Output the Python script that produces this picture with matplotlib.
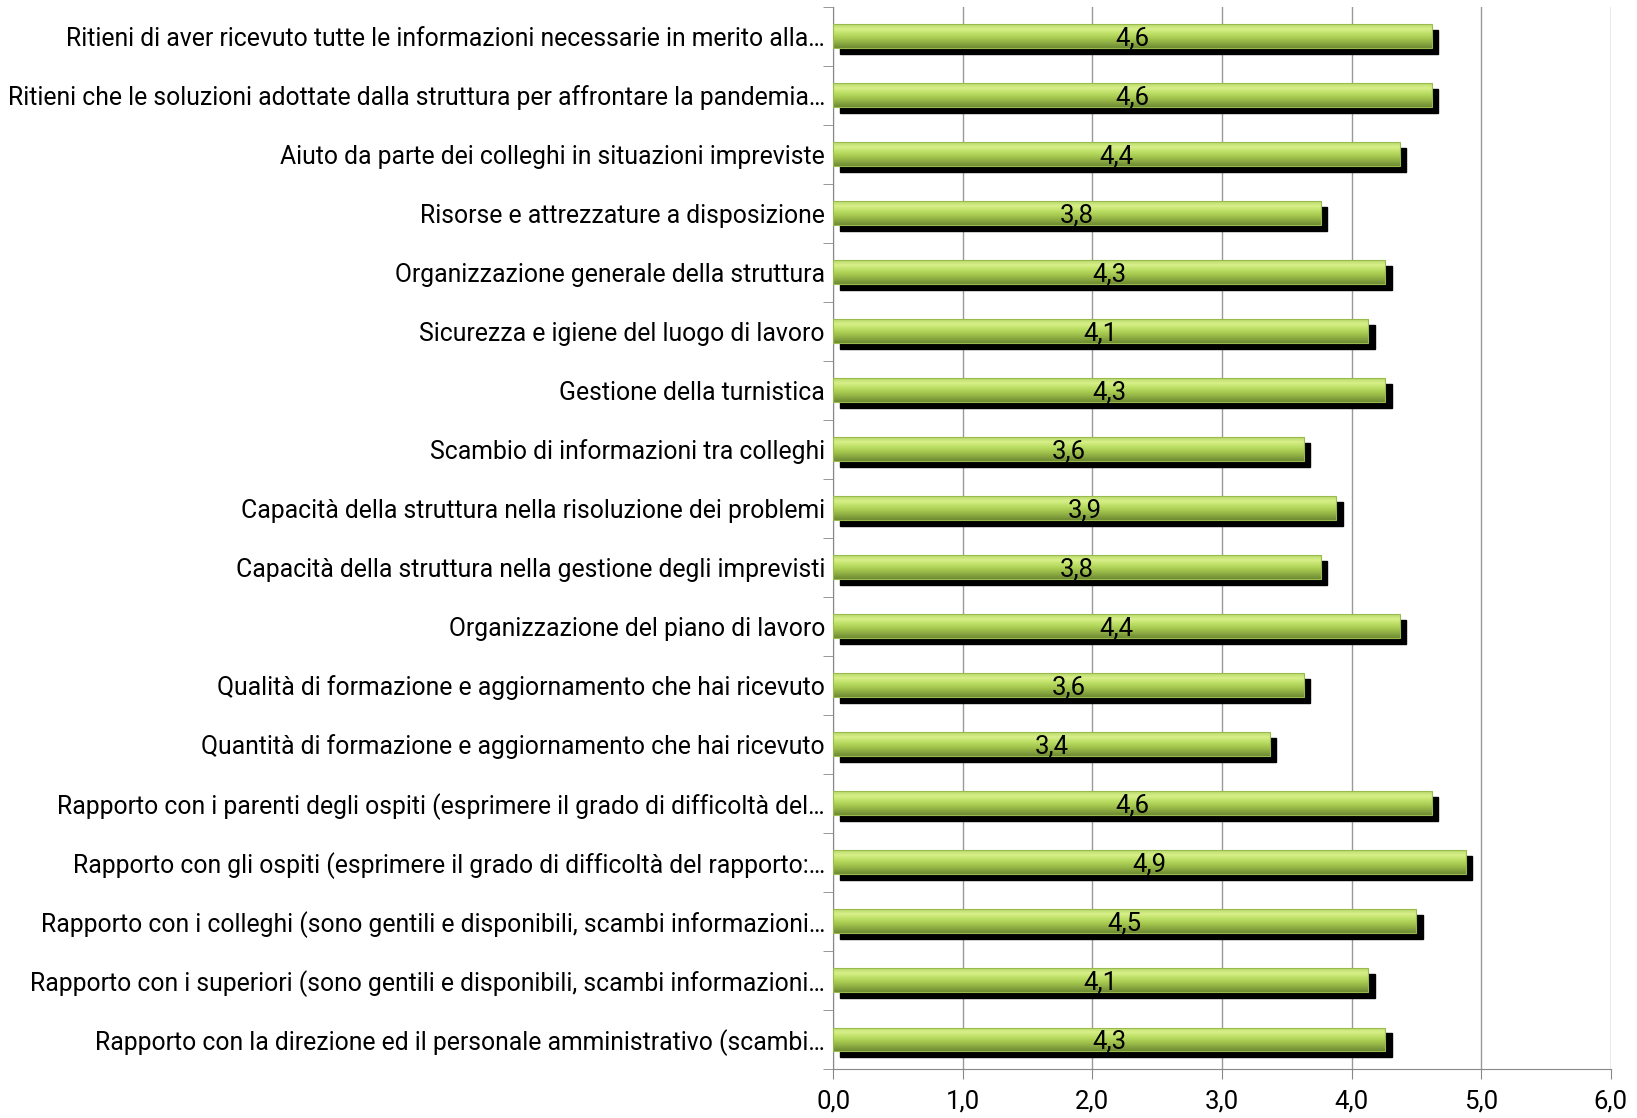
import matplotlib.pyplot as plt
import numpy as np
from matplotlib.colors import LinearSegmentedColormap
from matplotlib.patches import Rectangle
from matplotlib.ticker import FixedLocator, FuncFormatter

plt.rcParams['font.family'] = ['Roboto', 'DejaVu Sans']

categories = [
    "Ritieni di aver ricevuto tutte le informazioni necessarie in merito alla…",
    "Ritieni che le soluzioni adottate dalla struttura per affrontare la pandemia…",
    "Aiuto da parte dei colleghi in situazioni impreviste",
    "Risorse e attrezzature a disposizione",
    "Organizzazione generale della struttura",
    "Sicurezza e igiene del luogo di lavoro",
    "Gestione della turnistica",
    "Scambio di informazioni tra colleghi",
    "Capacità della struttura nella risoluzione dei problemi",
    "Capacità della struttura nella gestione degli imprevisti",
    "Organizzazione del piano di lavoro",
    "Qualità di formazione e aggiornamento che hai ricevuto",
    "Quantità di formazione e aggiornamento che hai ricevuto",
    "Rapporto con i parenti degli ospiti (esprimere il grado di difficoltà del…",
    "Rapporto con gli ospiti (esprimere il grado di difficoltà del rapporto:…",
    "Rapporto con i colleghi (sono gentili e disponibili, scambi informazioni…",
    "Rapporto con i superiori (sono gentili e disponibili, scambi informazioni…",
    "Rapporto con la direzione ed il personale amministrativo (scambi…",
]
values = [4.62, 4.62, 4.37, 3.76, 4.26, 4.13, 4.26, 3.63, 3.88, 3.76, 4.37, 3.63, 3.37,
          4.62, 4.88, 4.5, 4.13, 4.26]
xticks = [0, 1, 2, 3, 4, 5, 6]

fig = plt.figure(figsize=(16.37, 11.18), dpi=100)
ax = fig.add_axes([0.509, 0.044, 0.475, 0.95])

grad = LinearSegmentedColormap.from_list('g', ['#6e8a33', '#8cab42', '#a6c950', '#bddf66', '#d8f08a', '#b8d86a'])
gimg = np.linspace(0, 1, 64).reshape(-1, 1)

h = 0.40
ypos = np.arange(len(categories))
for y, v in zip(ypos, values):
    # shadow
    ax.add_patch(Rectangle((0.05, y - h / 2 + 0.1), v, h, color='black', zorder=2))
    rect = Rectangle((0, y - h / 2), v, h, facecolor='none', edgecolor='#9aba4e', lw=0.8, zorder=4)
    ax.add_patch(rect)
    im = ax.imshow(gimg, cmap=grad, aspect='auto', extent=(0, v, y + h / 2, y - h / 2),
                   origin='lower', zorder=3, interpolation='bilinear')
    im.set_clip_path(rect)
    ax.text(v / 2, y + 0.04, f"{v:.1f}".replace('.', ','), ha='center', va='center',
            fontsize=18.5, color='black', zorder=5)

ax.set_xlim(0, 6)
ax.set_ylim(len(categories) - 0.5, -0.5)
ax.set_xticks(xticks)
ax.xaxis.set_major_formatter(FuncFormatter(lambda x, p: f"{x:.1f}".replace('.', ',')))
ax.set_yticks(ypos)
ax.set_yticklabels(categories)
ax.yaxis.set_minor_locator(FixedLocator(np.arange(-0.5, len(categories), 1.0)))
ax.tick_params(axis='y', which='major', length=0, pad=6, labelsize=17.8)
ax.tick_params(axis='y', which='minor', length=7, color='#888888')
ax.tick_params(axis='x', length=7, color='#888888', labelsize=18.5, pad=8)
ax.grid(axis='x', color='#999999', lw=1, zorder=0)
ax.set_axisbelow(True)
for s in ['top', 'right']:
    ax.spines[s].set_visible(False)
for s in ['left', 'bottom']:
    ax.spines[s].set_color('#888888')

fig.savefig('out.png', dpi=100)
